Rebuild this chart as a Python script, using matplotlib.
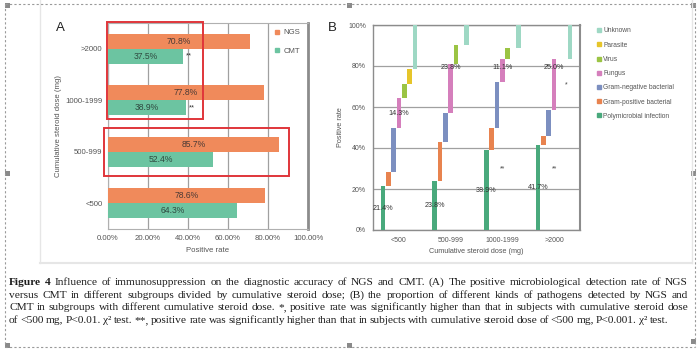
import matplotlib
matplotlib.use("Agg")
import matplotlib.pyplot as plt
import numpy as np
from matplotlib.patches import Rectangle
from matplotlib.lines import Line2D

# ---------------- data ----------------
dose_groups = ["<500", "500-999", "1000-1999", ">2000"]
ngs_rate = [78.6, 85.7, 77.8, 70.8]
cmt_rate = [64.3, 52.4, 38.9, 37.5]
cmt_marks = ["", "", "**", "**"]

pathogens = ["Polymicrobial infection", "Gram-positive bacterial", "Gram-negative bacterial",
             "Fungus", "Virus", "Parasite", "Unknown"]
polymicrobial = [21.4, 23.8, 38.9, 41.7]
gram_positive = [7.1, 19.0, 11.1, 4.2]
gram_negative = [21.4, 14.3, 22.2, 12.5]
fungus = [14.3, 23.8, 11.1, 25.0]
virus = [7.1, 9.5, 5.6, 0.0]
parasite = [7.1, 0.0, 0.0, 0.0]
unknown = [21.4, 9.5, 11.1, 16.7]
fungus_label_y = [57, 79.5, 79.5, 79.5]
poly_marks = ["", "", "**", "**"]
fungus_marks = ["", "", "", "*"]

caption_lines = [
    "Figure 4 Influence of immunosuppression on the diagnostic accuracy of NGS and CMT. (A) The positive microbiological detection rate of NGS",
    "versus CMT in different subgroups divided by cumulative steroid dose; (B) the proportion of different kinds of pathogens detected by NGS and",
    "CMT in subgroups with different cumulative steroid dose. *, positive rate was significantly higher than that in subjects with cumulative steroid dose",
    "of <500 mg, P<0.01. \u03c7\u00b2 test. **, positive rate was significantly higher than that in subjects with cumulative steroid dose of <500 mg, P<0.001. \u03c7\u00b2 test.",
]

# ---------------- style ----------------
W, H = 700, 350
plt.rcParams["font.family"] = ["Liberation Sans", "DejaVu Sans"]
fig = plt.figure(figsize=(7, 3.5), dpi=100)
fig.patch.set_facecolor("white")

def fr(x0, y0, x1, y1):
    return [x0 / W, 1 - y1 / H, (x1 - x0) / W, (y1 - y0) / H]

txt_gray = "#555555"
grid_gray = "#a0a0a0"
c_ngs = "#F08A5B"
c_cmt = "#6CC4A1"
path_colors = ["#49A97C", "#E8834F", "#7C8FC0", "#D57FBC", "#9BC444", "#E6C52A", "#9ED8C4"]

# ---------------- decorations (frame of image / selection) ----------------
deco = fig.add_axes([0, 0, 1, 1])
deco.set_xlim(0, W)
deco.set_ylim(H, 0)
deco.axis("off")
deco.plot([40, 40], [0, 263], color="#e6e6e6", lw=1)
deco.plot([40, 692], [263, 263], color="#e6e6e6", lw=1.5)
deco.plot([692, 692], [0, 263], color="#e6e6e6", lw=1)
dash = dict(color="#9a9a9a", lw=0.8, ls=(0, (2, 2)))
deco.plot([5, 695], [4, 4], **dash)
deco.plot([5, 695], [347, 347], **dash)
deco.plot([5, 5], [4, 347], **dash)
deco.plot([695, 695], [4, 347], **dash)
for hx, hy in [(7, 5), (349, 5), (693, 5), (7, 173), (693, 173), (7, 345), (349, 345), (693, 341)]:
    deco.add_patch(Rectangle((hx - 2.5, hy - 2.5), 5, 5, color="#8a8a8a", lw=0))

# ---------------- Panel A ----------------
axA = fig.add_axes(fr(108, 23, 308, 229))
y = np.arange(len(dose_groups))
bh = 0.29
axA.barh(y + bh / 2, ngs_rate, height=bh, color=c_ngs, label="NGS", zorder=3)
axA.barh(y - bh / 2, cmt_rate, height=bh, color=c_cmt, label="CMT", zorder=3)
for i in range(len(dose_groups)):
    axA.text(ngs_rate[i] / 2, y[i] + bh / 2, f"{ngs_rate[i]:.1f}%", ha="center", va="center",
             fontsize=6.2, color="#4a3a35", zorder=4)
    axA.text(cmt_rate[i] / 2, y[i] - bh / 2, f"{cmt_rate[i]:.1f}%", ha="center", va="center",
             fontsize=6.2, color="#2f4a40", zorder=4)
    if cmt_marks[i]:
        axA.text(cmt_rate[i] + 1.5, y[i] - bh / 2, cmt_marks[i], ha="left", va="center",
                 fontsize=5.5, color="#333333", zorder=4)
axA.set_xlim(0, 100)
axA.set_ylim(-0.5, len(dose_groups) - 0.5)
axA.set_yticks(y)
axA.set_yticklabels(dose_groups)
axA.set_xticks(np.arange(0, 101, 20))
axA.set_xticklabels([f"{v:.2f}%" for v in np.arange(0, 101, 20)])
axA.tick_params(length=0, labelsize=5.6, labelcolor=txt_gray, pad=4)
axA.xaxis.grid(True, color=grid_gray, lw=0.9, zorder=0)
for s in ["top", "bottom", "left"]:
    axA.spines[s].set_color("#b0b0b0")
    axA.spines[s].set_linewidth(0.8)
axA.spines["right"].set_color("#8c8c8c")
axA.spines["right"].set_linewidth(2.0)
axA.set_xlabel("Positive rate", fontsize=5.6, color=txt_gray, labelpad=4)
axA.set_ylabel("Cumulative steroid dose (mg)", fontsize=5.6, color=txt_gray, labelpad=2)
legA = axA.legend(handles=[Line2D([], [], marker="s", ls="", color=c_ngs, markersize=3, label="NGS"),
                           Line2D([], [], marker="s", ls="", color=c_cmt, markersize=3, label="CMT")],
                  loc="upper left", bbox_to_anchor=(275 / W, 1 - 29 / H), bbox_transform=fig.transFigure,
                  frameon=False, fontsize=5.6, handlelength=0.6, handletextpad=0.5, labelspacing=1.45,
                  borderaxespad=0, borderpad=0)
for t in legA.get_texts():
    t.set_color(txt_gray)

fig.text(60 / W, 1 - 28 / H, "A", fontsize=9.5, ha="center", va="center", color="#222222")

# ---------------- Panel B ----------------
axB = fig.add_axes(fr(373, 25, 580, 230))
series = [polymicrobial, gram_positive, gram_negative, fungus, virus, parasite, unknown]
x = np.arange(len(dose_groups))
step = 0.103
bw = 0.09
bottom = np.zeros(len(dose_groups))
for j, (name, vals) in enumerate(zip(pathogens, series)):
    vals = np.array(vals)
    xs = x + (j - 3) * step
    mask = vals > 0
    axB.bar(xs[mask], vals[mask], bottom=bottom[mask], width=bw, color=path_colors[j], label=name, zorder=3)
    bottom = bottom + vals
for i in range(len(dose_groups)):
    axB.text(x[i] - 3 * step, polymicrobial[i] / 2, f"{polymicrobial[i]:.1f}%", ha="center", va="center",
             fontsize=5.2, color="#333333", zorder=4)
    axB.text(x[i] + 0 * step, fungus_label_y[i], f"{fungus[i]:.1f}%", ha="center", va="center",
             fontsize=5.2, color="#333333", zorder=4)
    if poly_marks[i]:
        axB.text(x[i], 30, poly_marks[i], ha="center", va="center", fontsize=5, color="#444444")
    if fungus_marks[i]:
        axB.text(x[i] + 2.3 * step, 71, fungus_marks[i], ha="center", va="center", fontsize=5, color="#444444")
axB.set_xlim(-0.5, len(dose_groups) - 0.5)
axB.set_ylim(0, 100)
axB.set_xticks(x)
axB.set_xticklabels(dose_groups)
axB.set_yticks(np.arange(0, 101, 20))
axB.set_yticklabels([f"{v}%" for v in range(0, 101, 20)])
axB.tick_params(length=0, labelsize=5.0, labelcolor=txt_gray, pad=5)
axB.yaxis.grid(True, color=grid_gray, lw=0.9, zorder=0)
for s in ["top", "bottom", "left", "right"]:
    axB.spines[s].set_color("#8c8c8c")
    axB.spines[s].set_linewidth(1.0)
axB.spines["right"].set_linewidth(1.5)
axB.set_xlabel("Cumulative steroid dose (mg)", fontsize=5.2, color=txt_gray, labelpad=3)
axB.set_ylabel("Positive rate", fontsize=5.2, color=txt_gray, labelpad=3)
leg_h = [Line2D([], [], marker="s", ls="", color=path_colors[j], markersize=2.2) for j in range(len(pathogens))]
legB = axB.legend(leg_h[::-1], pathogens[::-1], loc="upper left", bbox_to_anchor=(598 / W, 1 - 27.5 / H),
                  bbox_transform=fig.transFigure, frameon=False, fontsize=4.8, handlelength=0.4,
                  handletextpad=0.4, labelspacing=1.08, borderaxespad=0, borderpad=0)
for t in legB.get_texts():
    t.set_color(txt_gray)

fig.text(332 / W, 1 - 28 / H, "B", fontsize=9.5, ha="center", va="center", color="#222222")

# ---------------- overlay: red highlight boxes ----------------
over = fig.add_axes([0, 0, 1, 1])
over.set_xlim(0, W)
over.set_ylim(H, 0)
over.axis("off")
over.patch.set_alpha(0)
over.add_patch(Rectangle((107, 22), 96, 97, fill=False, ec="#E0353A", lw=1.4))
over.add_patch(Rectangle((104, 128), 185, 48, fill=False, ec="#E0353A", lw=1.4))

# ---------------- caption (justified) ----------------
renderer = fig.canvas.get_renderer()
cap_font = dict(family=["Liberation Serif", "DejaVu Serif"], color="#1e1e1e")
x_left, x_right = 9, 688
line_base = [285, 298, 310.5, 323]

def width_of(s, size, weight="normal"):
    t = fig.text(0, 0, s, fontsize=size, weight=weight, **cap_font)
    w = t.get_window_extent(renderer).width
    t.remove()
    return w

# fit size so the last line (with slightly tight spacing) ends at ~670 px
last_words = caption_lines[-1].split(" ")
ref_words = sum(width_of(w, 10) for w in last_words)
ref_space = width_of("a b", 10) - width_of("ab", 10)
tight = 0.75
cap_size = 10 * (670 - x_left) / (ref_words + tight * ref_space * (len(last_words) - 1))
space_w = tight * ref_space * cap_size / 10

for li, line in enumerate(caption_lines):
    words = line.split(" ")
    weights = ["bold" if (li == 0 and k < 2) else "normal" for k in range(len(words))]
    ws = [width_of(w, cap_size, wt) for w, wt in zip(words, weights)]
    if li < len(caption_lines) - 1:
        gap = (x_right - x_left - sum(ws)) / (len(words) - 1)
    else:
        gap = space_w
    cx = x_left
    for w, wt, ww in zip(words, weights, ws):
        fig.text(cx / W, 1 - line_base[li] / H, w, fontsize=cap_size, weight=wt, ha="left",
                 va="baseline", **cap_font)
        cx += ww + gap

fig.savefig("out.png", dpi=100, facecolor="white")
